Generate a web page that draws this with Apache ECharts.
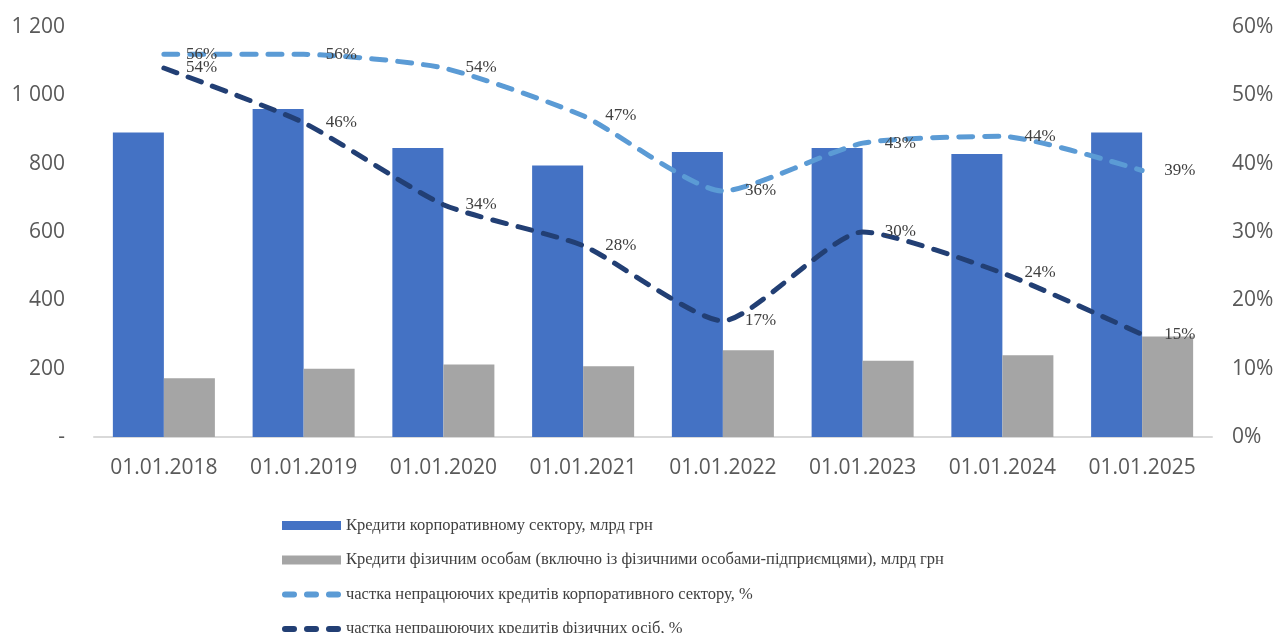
<!DOCTYPE html>
<html>
<head>
<meta charset="utf-8">
<script src="https://cdn.jsdelivr.net/npm/echarts@6/dist/echarts.min.js"></script>
<style>
  html, body { margin: 0; padding: 0; background: #fff; }
  #chart { width: 1278px; height: 633px; }
</style>
</head>
<body>
<div id="chart"></div>
<script>
// дати (категорії)
var categories = ["01.01.2018", "01.01.2019", "01.01.2020", "01.01.2021",
                  "01.01.2022", "01.01.2023", "01.01.2024", "01.01.2025"];
// кредити, млрд грн
var corpLoans = [891, 960, 846, 795, 834, 846, 828, 891];
var retailLoans = [172, 200, 212, 207, 254, 223, 239, 294];
// частка непрацюючих кредитів, %
var corpNpl = [56, 56, 54, 47, 36, 43, 44, 39];
var retailNpl = [54, 46, 34, 28, 17, 30, 24, 15];

var names = [
  "Кредити корпоративному сектору, млрд грн",
  "Кредити фізичним особам (включно із фізичними особами-підприємцями), млрд грн",
  "частка непрацюючих кредитів корпоративного сектору, %",
  "частка непрацюючих кредитів фізичних осіб, %"
];

var serif = "'Liberation Serif', 'Times New Roman', serif";
var sans = "'Open Sans', sans-serif";

// три заокруглені риски для легенди
var dashIcon = "path://M3,0 H12 A3,3 0 0 1 12,6 H3 A3,3 0 0 1 3,0 Z" +
  " M25,0 H34 A3,3 0 0 1 34,6 H25 A3,3 0 0 1 25,0 Z" +
  " M47,0 H56 A3,3 0 0 1 56,6 H47 A3,3 0 0 1 47,0 Z";

function lineSerie(name, data, color) {
  return {
    name: name,
    type: "line",
    yAxisIndex: 1,
    data: data,
    smooth: 0.2,
    symbol: "circle",
    symbolSize: 0.1,
    lineStyle: { color: color, width: 5, type: [14, 12], cap: "round" },
    itemStyle: { color: color },
    label: {
      show: true,
      position: "right",
      distance: 22,
      formatter: "{c}%",
      fontFamily: serif,
      fontSize: 17,
      color: "#404040"
    },
    z: 5
  };
}

var myChart = echarts.init(document.getElementById("chart"));
myChart.setOption({
  animation: false,
  grid: { left: 94, right: 66, top: 27, bottom: 196 },
  legend: {
    orient: "vertical",
    left: 277,
    top: 512,
    height: 300,
    itemWidth: 59,
    itemHeight: 9,
    itemGap: 17.5,
    textStyle: { fontFamily: serif, fontSize: 16.5, color: "#404040" },
    data: [
      { name: names[0], icon: "rect" },
      { name: names[1], icon: "rect" },
      { name: names[2], icon: dashIcon },
      { name: names[3], icon: dashIcon }
    ]
  },
  xAxis: {
    type: "category",
    data: categories,
    axisLine: { lineStyle: { color: "#D9D9D9", width: 2 } },
    axisTick: { show: false },
    axisLabel: { fontFamily: sans, fontSize: 21, color: "#595959", margin: 21 }
  },
  yAxis: [
    {
      type: "value",
      min: 0,
      max: 1200,
      interval: 200,
      splitLine: { show: false },
      axisLine: { show: false },
      axisTick: { show: false },
      axisLabel: {
        fontFamily: sans,
        fontSize: 21,
        color: "#595959",
        margin: 29,
        formatter: function (v) {
          if (v === 0) return "-";
          return String(v).replace(/\B(?=(\d{3})+(?!\d))/g, " ");
        }
      }
    },
    {
      type: "value",
      min: 0,
      max: 60,
      interval: 10,
      splitLine: { show: false },
      axisLine: { show: false },
      axisTick: { show: false },
      axisLabel: {
        fontFamily: sans,
        fontSize: 21,
        color: "#595959",
        margin: 20,
        formatter: "{value}%"
      }
    }
  ],
  series: [
    {
      name: names[0],
      type: "bar",
      data: corpLoans,
      barGap: "0%",
      barCategoryGap: "27%",
      itemStyle: { color: "#4472C4" }
    },
    {
      name: names[1],
      type: "bar",
      data: retailLoans,
      itemStyle: { color: "#A5A5A5" }
    },
    lineSerie(names[2], corpNpl, "#5B9BD5"),
    lineSerie(names[3], retailNpl, "#223F74")
  ]
});
</script>
</body>
</html>
